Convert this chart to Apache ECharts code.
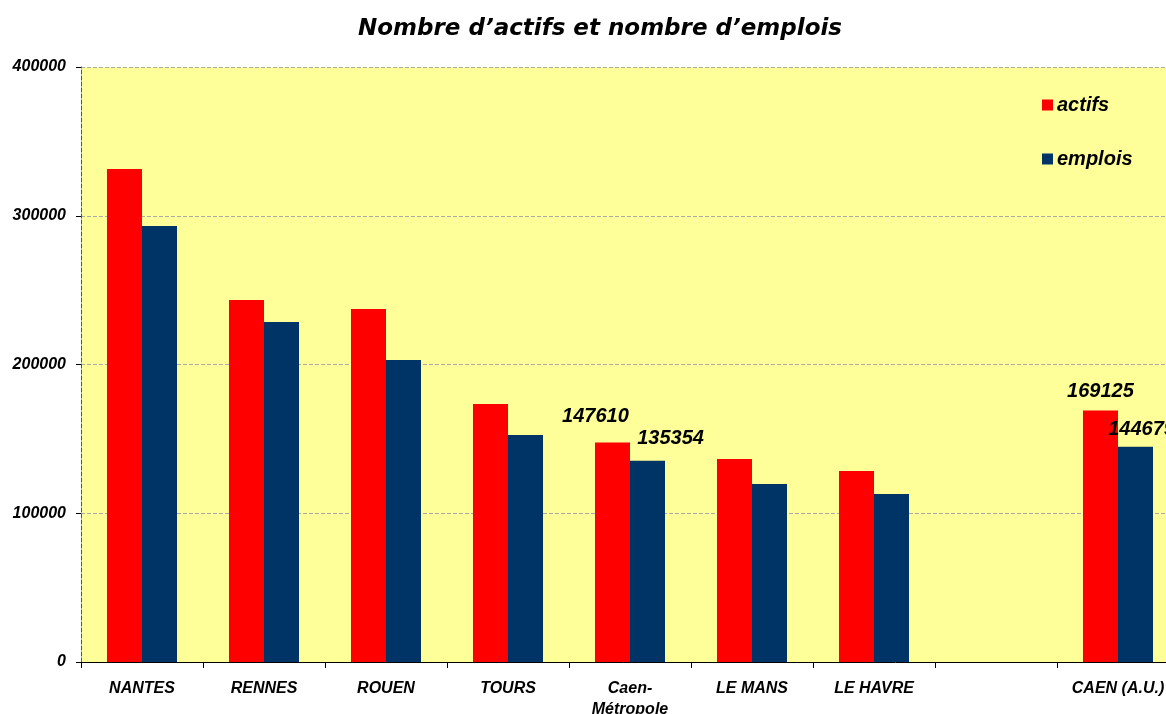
<!DOCTYPE html>
<html>
<head>
<meta charset="utf-8">
<script src="https://cdn.jsdelivr.net/npm/echarts@6/dist/echarts.min.js"></script>
<style>
  html, body { margin: 0; padding: 0; background: #fff; }
  #chart { width: 1166px; height: 714px; }
</style>
</head>
<body>
<div id="chart"></div>
<script>
    // villes (la 8e colonne est vide dans l'original)
    const villes = ['NANTES', 'RENNES', 'ROUEN', 'TOURS', 'Caen-\nMétropole', 'LE MANS', 'LE HAVRE', '', 'CAEN (A.U.)'];
    const actifs = [331400, 243300, 237300, 173400, 147610, 136500, 128400, null, 169125];
    const emplois = [293100, 228600, 203000, 152600, 135354, 119700, 112900, null, 144679];
    const yTicks = [0, 100000, 200000, 300000, 400000];

    // seules deux colonnes ont une étiquette de valeur
    const etiquetteActifs = {4: [-17, -11], 8: [0, -4]};
    const etiquetteEmplois = {4: [23, -7], 8: [6, -2]};

    const police = 'Liberation Sans, Arial, sans-serif';

    function withLabels(values, offsets) {
        return values.map(function (v, i) {
            if (offsets[i] === undefined) {
                return v;
            }
            return {
                value: v,
                label: {
                    show: true,
                    position: 'top',
                    offset: offsets[i],
                    fontFamily: police,
                    fontSize: 20,
                    fontWeight: 'bold',
                    fontStyle: 'italic',
                    color: '#000'
                }
            };
        });
    }

    let myChart = echarts.init(document.getElementById('chart'));
    myChart.setOption({
        animation: false,
        backgroundColor: '#fff',
        title: {
            text: 'Nombre d’actifs et nombre d’emplois',
            left: 595,
            textAlign: 'center',
            top: 13,
            textStyle: {
                fontFamily: 'DejaVu Sans, Verdana, sans-serif',
                fontSize: 23,
                fontWeight: 'bold',
                fontStyle: 'italic',
                color: '#000'
            }
        },
        legend: {
            orient: 'vertical',
            left: 1037,
            top: 90,
            icon: 'rect',
            itemWidth: 11,
            itemHeight: 11,
            itemGap: 34,
            data: ['actifs', 'emplois'],
            textStyle: {
                fontFamily: police,
                fontSize: 20,
                lineHeight: 20,
                fontWeight: 'bold',
                fontStyle: 'italic',
                color: '#000',
                padding: [0, 0, 0, -1]
            }
        },
        grid: {
            left: 81,
            top: 67,
            bottom: 52,
            right: -13,
            show: true,
            backgroundColor: '#FFFF99',
            borderWidth: 0,
            containLabel: false,
            outerBoundsMode: 'none'
        },
        xAxis: {
            type: 'category',
            data: villes,
            axisLine: {lineStyle: {color: '#000', width: 1}},
            axisTick: {show: true, length: 6, lineStyle: {color: '#000'}},
            axisLabel: {
                interval: 0,
                margin: 16,
                fontFamily: police,
                fontSize: 16,
                fontWeight: 'bold',
                fontStyle: 'italic',
                color: '#000',
                lineHeight: 21
            }
        },
        yAxis: {
            type: 'value',
            min: yTicks[0],
            max: yTicks[yTicks.length - 1],
            interval: 100000,
            axisLine: {show: true, lineStyle: {color: '#555', type: 'dashed'}},
            axisTick: {show: true, length: 5, lineStyle: {color: '#000'}},
            splitLine: {lineStyle: {color: '#aaa', type: 'dashed'}},
            axisLabel: {
                margin: 15,
                fontFamily: police,
                fontSize: 16,
                fontWeight: 'bold',
                fontStyle: 'italic',
                color: '#000',
                formatter: function (v) {
                    return String(v);
                }
            }
        },
        series: [
            {
                type: 'bar',
                name: 'actifs',
                data: withLabels(actifs, etiquetteActifs),
                itemStyle: {color: '#FF0000'},
                barGap: '0%',
                barCategoryGap: '42.6%'
            },
            {
                type: 'bar',
                name: 'emplois',
                data: withLabels(emplois, etiquetteEmplois),
                itemStyle: {color: '#003366'},
                barGap: '0%',
                barCategoryGap: '42.6%'
            }
        ]
    });
</script>
</body>
</html>
